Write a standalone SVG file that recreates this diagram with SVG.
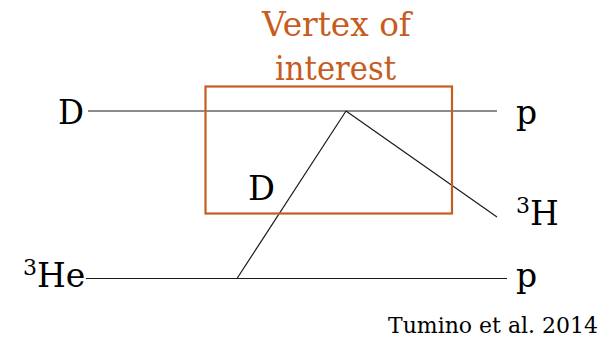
<svg xmlns="http://www.w3.org/2000/svg" width="616" height="338" viewBox="0 0 616 338">
<style>
.t{font-family:"DejaVu Serif","Liberation Serif",serif;font-size:33px;fill:#000}
.o{fill:#c65d1e}
.s{font-size:22px}
.c{font-family:"DejaVu Serif","Liberation Serif",serif;font-size:22px;fill:#000}
.ln{stroke:#1a1a1a;stroke-width:1.2;fill:none}
</style>
<rect width="616" height="338" fill="#fff"/>
<g id="connectors">
<line class="ln" x1="88" y1="111" x2="497" y2="111"/>
<line class="ln" x1="86" y1="278.5" x2="507" y2="278.5"/>
<line class="ln" x1="346" y1="111" x2="237" y2="278.5"/>
<line class="ln" x1="346" y1="111" x2="497" y2="217"/>
</g>
<g id="vertex-box">
<rect x="205.5" y="86.5" width="246.5" height="127" fill="none" stroke="#c65d1e" stroke-width="2.2"/>
<text class="t o" x="336.5" y="36" text-anchor="middle" textLength="149" lengthAdjust="spacingAndGlyphs">Vertex of</text>
<text class="t o" x="335.5" y="80" text-anchor="middle" textLength="121" lengthAdjust="spacingAndGlyphs">interest</text>
</g>
<g id="D-in"><text class="t" x="58" y="124" textLength="26" lengthAdjust="spacingAndGlyphs">D</text></g>
<g id="p-out-top"><text class="t" x="516" y="124">p</text></g>
<g id="D-exchange"><text class="t" x="248" y="200" textLength="27" lengthAdjust="spacingAndGlyphs">D</text></g>
<g id="H3-out"><text class="t" x="516" y="225"><tspan class="s" dy="-12">3</tspan><tspan dy="12">H</tspan></text></g>
<g id="He3-in"><text class="t" x="23" y="287"><tspan class="s" dy="-12">3</tspan><tspan dy="12">He</tspan></text></g>
<g id="p-out-bottom"><text class="t" x="516" y="287">p</text></g>
<g id="citation"><text class="c" x="388" y="333" textLength="210" lengthAdjust="spacingAndGlyphs">Tumino et al. 2014</text></g>
</svg>
